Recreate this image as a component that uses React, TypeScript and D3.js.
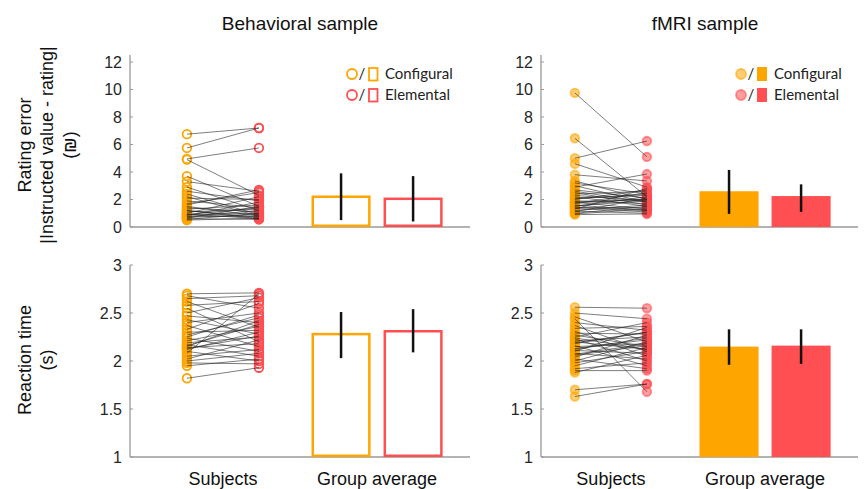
import React from "react";
import * as d3 from "d3";

// categories / labels
const samples = ["Behavioral sample", "fMRI sample"];
const conditions = ["Configural", "Elemental"];
const xLabels = ["Subjects", "Group average"];
const errTicks = [0, 2, 4, 6, 8, 10, 12];
const rtTicks = [1, 1.5, 2, 2.5, 3];

// behavioral sample - rating error per subject
const behErrConf = [6.75, 5.75, 4.95, 4.9, 3.7, 3.3, 2.9, 2.6, 2.4, 2.1, 1.9, 1.7, 1.5, 1.4, 1.3, 1.2, 1.1, 1.0, 0.95, 0.9, 0.85, 0.8, 0.75, 0.7, 0.65, 0.6, 0.55, 0.5, 1.6, 2.2, 0.9, 1.2];
const behErrElem = [7.2, 7.2, 5.75, 2.3, 1.5, 2.6, 1.2, 1.9, 0.9, 2.0, 1.4, 2.5, 0.8, 1.1, 1.6, 0.7, 1.3, 2.2, 0.6, 1.0, 1.8, 0.75, 1.2, 0.9, 1.5, 0.55, 1.0, 0.65, 2.7, 0.8, 1.4, 0.6];
// behavioral sample - reaction time per subject
const behRtConf = [2.7, 2.68, 2.65, 2.62, 2.58, 2.55, 2.5, 2.47, 2.43, 2.4, 2.37, 2.33, 2.3, 2.27, 2.24, 2.21, 2.19, 2.17, 2.15, 2.14, 2.12, 2.1, 2.08, 2.05, 2.02, 2.0, 1.98, 1.95, 2.16, 2.13, 2.25, 1.82];
const behRtElem = [2.71, 2.55, 2.68, 2.35, 2.62, 2.2, 2.66, 2.4, 2.28, 2.5, 2.15, 2.6, 2.32, 2.45, 2.1, 2.36, 2.25, 2.05, 2.42, 2.18, 2.3, 2.0, 2.7, 2.12, 2.22, 2.08, 1.97, 2.02, 2.38, 2.26, 2.48, 1.93];
// fMRI sample - rating error per subject
const fmriErrConf = [9.75, 6.45, 5.0, 4.6, 3.8, 3.35, 3.2, 3.0, 2.9, 2.7, 2.5, 2.4, 2.3, 2.2, 2.1, 2.0, 1.9, 1.85, 1.8, 1.7, 1.6, 1.55, 1.5, 1.4, 1.35, 1.3, 1.2, 1.15, 1.1, 1.0, 0.95, 0.9, 2.6, 1.75, 1.45, 2.05];
const fmriErrElem = [5.1, 2.2, 6.25, 2.9, 3.35, 2.0, 2.4, 1.8, 3.85, 2.1, 1.6, 2.6, 1.9, 1.5, 2.3, 2.7, 1.7, 2.0, 1.3, 2.5, 1.2, 1.9, 2.2, 1.4, 1.1, 2.8, 1.6, 1.0, 2.1, 1.5, 1.3, 0.95, 1.8, 2.0, 1.2, 2.4];
// fMRI sample - reaction time per subject
const fmriRtConf = [2.56, 2.5, 2.46, 2.44, 2.4, 2.37, 2.34, 2.31, 2.29, 2.27, 2.25, 2.23, 2.21, 2.2, 2.18, 2.16, 2.15, 2.13, 2.11, 2.1, 2.08, 2.06, 2.04, 2.02, 2.0, 1.98, 1.95, 1.92, 1.9, 1.88, 2.12, 2.19, 2.24, 2.07, 1.7, 1.63];
const fmriRtElem = [2.55, 2.44, 2.2, 1.68, 2.32, 2.1, 2.36, 2.05, 2.28, 2.15, 2.4, 2.0, 2.25, 2.12, 2.3, 1.95, 2.18, 2.22, 2.08, 2.35, 2.02, 2.16, 2.27, 1.92, 2.2, 2.1, 2.14, 1.98, 1.9, 2.06, 2.24, 2.3, 2.12, 2.18, 1.76, 1.76];

// group averages [configural, elemental] and error bar ends [low, high]
const behErrMean = [2.2, 2.05];
const behErrBar = [[0.5, 3.9], [0.4, 3.7]];
const behRtMean = [2.28, 2.31];
const behRtBar = [[2.03, 2.51], [2.09, 2.54]];
const fmriErrMean = [2.6, 2.25];
const fmriErrBar = [[0.95, 4.15], [1.1, 3.1]];
const fmriRtMean = [2.15, 2.16];
const fmriRtBar = [[1.96, 2.33], [1.97, 2.33]];

const ORANGE = "#ffa500";
const RED = "#ff4f52";
const colors = [ORANGE, RED];
const FONT = "'Liberation Sans', Arial, sans-serif";

type PanelProps = {
  conf: number[];
  elem: number[];
  mean: number[];
  bars: number[][];
  filled: boolean;
  bottom: boolean;
  yDomain: [number, number];
  yRange: [number, number];
  ticks: number[];
  xDomain: [number, number];
  xRange: [number, number];
};

const Panel = ({ conf, elem, mean, bars, filled, bottom, yDomain, yRange, ticks, xDomain, xRange }: PanelProps) => {
  const x = d3.scaleLinear().domain(xDomain).range(xRange);
  const y = d3.scaleLinear().domain(yDomain).range(yRange);
  const subjPos = [1, 2];
  const barPos = [3.14, 4.14];
  const bw = x(0.82) - x(0);
  const line = d3.line<[number, number]>().x(d => x(d[0])).y(d => y(d[1]));
  const series = [conf, elem];
  return (
    <g>
      {/* axes */}
      <line x1={xRange[0]} x2={xRange[0]} y1={y(yDomain[0])} y2={y(yDomain[1])} stroke="#9a9a9a" strokeWidth={1.3} />
      <line x1={xRange[0]} x2={xRange[1]} y1={y(yDomain[0])} y2={y(yDomain[0])} stroke="#9a9a9a" strokeWidth={1.3} />
      {ticks.map(t => (
        <g key={t}>
          <line x1={xRange[0]} x2={xRange[0] + 3} y1={y(t)} y2={y(t)} stroke="#9a9a9a" strokeWidth={1} />
          <text x={xRange[0] - 8} y={y(t)} dy="0.35em" textAnchor="end" fontSize={16} fill="#262626" fontFamily={FONT}>{t}</text>
        </g>
      ))}
      {/* subject circles */}
      {series.map((s, ci) =>
        s.map((v, i) => (
          <circle key={ci + "-" + i} cx={x(subjPos[ci])} cy={y(v)} r={4.3}
            fill={filled ? colors[ci] : "white"} fillOpacity={filled ? 0.55 : 0}
            stroke={colors[ci]} strokeOpacity={filled ? 0.6 : 1} strokeWidth={1.8} />
        ))
      )}
      {/* subject lines */}
      {conf.map((v, i) => (
        <path key={"l" + i} d={line([[subjPos[0], v], [subjPos[1], elem[i]]]) || ""}
          stroke="#222" strokeOpacity={0.65} strokeWidth={0.9} fill="none" />
      ))}
      {/* group averages */}
      {mean.map((m, ci) => (
        filled ? (
          <rect key={"b" + ci} x={x(barPos[ci]) - bw / 2} y={y(m)} width={bw} height={y(yDomain[0]) - y(m)}
            fill={colors[ci]} />
        ) : (
          <rect key={"b" + ci} x={x(barPos[ci]) - bw / 2 + 1.25} y={y(m)} width={bw - 2.5} height={y(yDomain[0]) - y(m) - 1.25}
            fill="none" stroke={colors[ci]} strokeWidth={2.5} />
        )
      ))}
      {bars.map((b, ci) => (
        <line key={"e" + ci} x1={x(barPos[ci])} x2={x(barPos[ci])} y1={y(b[0])} y2={y(b[1])} stroke="#111" strokeWidth={2.5} />
      ))}
      {/* x labels */}
      {bottom && (
        <g fontSize={18} fill="#111" fontFamily={FONT} textAnchor="middle">
          <text x={(x(subjPos[0]) + x(subjPos[1])) / 2} y={485}>{xLabels[0]}</text>
          <text x={(x(barPos[0]) + x(barPos[1])) / 2} y={485}>{xLabels[1]}</text>
        </g>
      )}
    </g>
  );
};

const Legend = ({ x0, filled }: { x0: number; filled: boolean }) => (
  <g fontFamily="Lato, 'Open Sans', sans-serif" fontSize={15} fill="#222">
    {conditions.map((c, i) => {
      const cy = 74 + i * 21;
      return (
        <g key={c}>
          <circle cx={x0} cy={cy} r={5} fill={filled ? colors[i] : "none"} fillOpacity={0.55}
            stroke={colors[i]} strokeOpacity={filled ? 0.6 : 1} strokeWidth={1.8} />
          <text x={x0 + 10} y={cy} dy="0.35em" textAnchor="middle">/</text>
          {filled ? (
            <rect x={x0 + 16} y={cy - 7} width={10} height={14} fill={colors[i]} />
          ) : (
            <rect x={x0 + 17} y={cy - 6} width={8.5} height={12.5} fill="none" stroke={colors[i]} strokeWidth={1.8} />
          )}
          <text x={x0 + 33} y={cy} dy="0.35em">{c}</text>
        </g>
      );
    })}
  </g>
);

const App = () => {
  const leftX: [number, number] = [130, 470];
  const rightX: [number, number] = [541, 858];
  const leftDom: [number, number] = [0.21, 4.93];
  const rightDom: [number, number] = [0.53, 4.93];
  const errY: [number, number] = [227, 55.1];
  const rtY: [number, number] = [457, 265];
  return (
    <svg width={866} height={489} style={{ position: "absolute", left: 0, top: 0 }}>
      <rect width={866} height={489} fill="white" />
      <text x={300} y={30} textAnchor="middle" fontSize={19} fill="#111" fontFamily={FONT}>{samples[0]}</text>
      <text x={705} y={30} textAnchor="middle" fontSize={19} fill="#111" fontFamily={FONT}>{samples[1]}</text>

      <g fontFamily={FONT} fontSize={18} fill="#111" textAnchor="middle">
        <text transform="translate(31,145) rotate(-90)">Rating error</text>
        <text transform="translate(53,145) rotate(-90)">|Instructed value - rating|</text>
        <text transform="translate(76,145) rotate(-90)">(₪)</text>
        <text transform="translate(31,360) rotate(-90)">Reaction time</text>
        <text transform="translate(53,360) rotate(-90)">(s)</text>
      </g>

      <Panel conf={behErrConf} elem={behErrElem} mean={behErrMean} bars={behErrBar} filled={false} bottom={false}
        yDomain={[0, 12.5]} yRange={errY} ticks={errTicks} xDomain={leftDom} xRange={leftX} />
      <Panel conf={behRtConf} elem={behRtElem} mean={behRtMean} bars={behRtBar} filled={false} bottom={true}
        yDomain={[1, 3]} yRange={rtY} ticks={rtTicks} xDomain={leftDom} xRange={leftX} />
      <Panel conf={fmriErrConf} elem={fmriErrElem} mean={fmriErrMean} bars={fmriErrBar} filled={true} bottom={false}
        yDomain={[0, 12.5]} yRange={errY} ticks={errTicks} xDomain={rightDom} xRange={rightX} />
      <Panel conf={fmriRtConf} elem={fmriRtElem} mean={fmriRtMean} bars={fmriRtBar} filled={true} bottom={true}
        yDomain={[1, 3]} yRange={rtY} ticks={rtTicks} xDomain={rightDom} xRange={rightX} />

      <Legend x0={352} filled={false} />
      <Legend x0={741} filled={true} />
    </svg>
  );
};

export default App;
